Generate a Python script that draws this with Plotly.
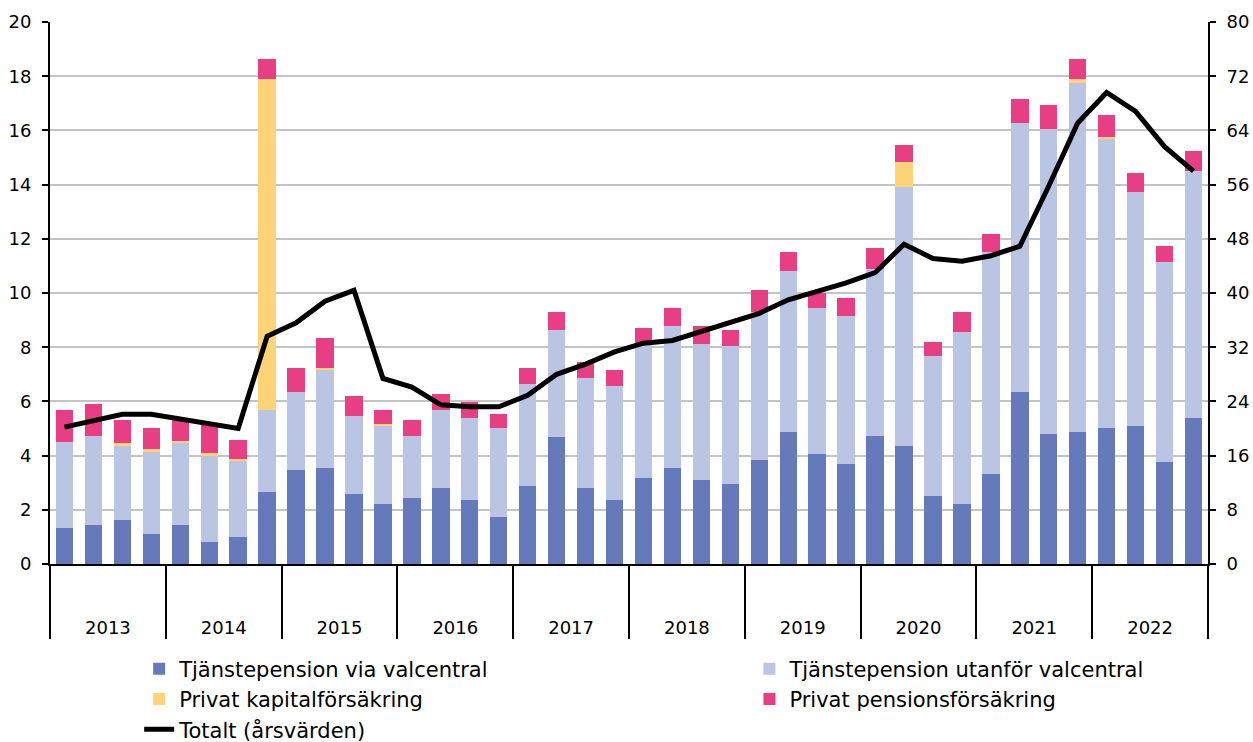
import plotly.graph_objects as go

years = ["2013", "2014", "2015", "2016", "2017", "2018", "2019", "2020", "2021", "2022"]
quarters_per_year = 4

via_valcentral = [1.34, 1.43, 1.64, 1.12, 1.43, 0.82, 0.98, 2.67,
                  3.48, 3.55, 2.59, 2.22, 2.44, 2.81, 2.37, 1.72,
                  2.89, 4.67, 2.81, 2.37, 3.18, 3.55, 3.11, 2.96,
                  3.85, 4.88, 4.07, 3.70, 4.73, 4.37, 2.52, 2.22,
                  3.33, 6.36, 4.80, 4.88, 5.03, 5.10, 3.78, 5.40]
utanfor_valcentral = [3.18, 3.30, 2.74, 3.04, 3.02, 3.20, 2.83, 3.03,
                      2.88, 3.63, 2.88, 2.90, 2.29, 2.89, 3.03, 3.31,
                      3.75, 3.98, 4.07, 4.21, 4.92, 5.24, 5.02, 5.09,
                      5.45, 5.95, 5.37, 5.45, 6.17, 9.56, 5.16, 6.35,
                      8.17, 9.92, 11.26, 12.87, 10.66, 8.61, 7.35, 9.12]
privat_kapital = [0.0, 0.0, 0.07, 0.07, 0.08, 0.06, 0.05, 12.20,
                  0.0, 0.06, 0.0, 0.06, 0.0, 0.0, 0.0, 0.0,
                  0.0, 0.0, 0.0, 0.0, 0.0, 0.0, 0.0, 0.0,
                  0.0, 0.0, 0.0, 0.0, 0.0, 0.89, 0.0, 0.0,
                  0.0, 0.0, 0.0, 0.15, 0.07, 0.0, 0.0, 0.0]
privat_pension = [1.17, 1.19, 0.87, 0.80, 0.78, 1.12, 0.72, 0.74,
                  0.88, 1.10, 0.74, 0.51, 0.59, 0.59, 0.59, 0.51,
                  0.60, 0.64, 0.58, 0.58, 0.60, 0.65, 0.64, 0.60,
                  0.81, 0.67, 0.56, 0.66, 0.75, 0.65, 0.52, 0.72,
                  0.66, 0.88, 0.87, 0.74, 0.82, 0.72, 0.60, 0.72]
totalt_arsvarden = [20.2, 21.2, 22.1, 22.1, 21.4, 20.6, 20.0, 33.6,
                    35.6, 38.8, 40.4, 27.4, 26.1, 23.5, 23.2, 23.2,
                    24.9, 28.0, 29.5, 31.3, 32.6, 33.0, 34.3, 35.6,
                    37.0, 39.0, 40.3, 41.5, 43.0, 47.2, 45.1, 44.7,
                    45.5, 46.9, 55.8, 65.1, 69.6, 66.8, 61.6, 58.0]

left_ticks = [0, 2, 4, 6, 8, 10, 12, 14, 16, 18, 20]
right_ticks = [0, 8, 16, 24, 32, 40, 48, 56, 64, 72, 80]

names = ["Tjänstepension via valcentral", "Tjänstepension utanför valcentral",
         "Privat kapitalförsäkring", "Privat pensionsförsäkring", "Totalt (årsvärden)"]
colors = ["#6679BA", "#BAC5E3", "#FFD378", "#E83E84", "#000000"]
legend_of = ["legend", "legend2", "legend", "legend2", "legend"]

x = list(range(len(via_valcentral)))
year_centers = [i * quarters_per_year + (quarters_per_year - 1) / 2 for i in range(len(years))]

FONT = "DejaVu Sans"

fig = go.Figure()
bar_series = [via_valcentral, utanfor_valcentral, privat_kapital, privat_pension]
for i, vals in enumerate(bar_series):
    fig.add_trace(go.Bar(x=x, y=vals, name=names[i], legend=legend_of[i],
                         legendgroup=f"g{i}",
                         marker=dict(color=colors[i], line=dict(width=0))))

fig.add_trace(go.Scatter(x=x, y=totalt_arsvarden, name=names[4], mode="lines",
                         legend=legend_of[4], legendgroup="g4",
                         line=dict(color=colors[4], width=5), yaxis="y2"))

legend_common = dict(
    orientation="v", xanchor="left", yanchor="top", y=-0.156,
    font=dict(family=FONT, size=21, color="black"),
    traceorder="grouped", tracegroupgap=0,
    bgcolor="rgba(0,0,0,0)", borderwidth=0,
)

fig.update_layout(
    width=1253, height=742,
    margin=dict(l=50, r=45, t=22, b=178, autoexpand=False),
    paper_bgcolor="white", plot_bgcolor="white",
    barmode="stack", bargap=0.4,
    font=dict(family=FONT, size=18, color="black"),
    xaxis=dict(
        range=[-0.5, len(x) - 0.5],
        tickmode="array", tickvals=year_centers, ticktext=years,
        ticks="outside", ticklen=46, tickcolor="rgba(0,0,0,0)",
        tickfont=dict(size=18),
        showline=True, linecolor="black", linewidth=2,
        showgrid=False, zeroline=False,
        minor=dict(tickmode="linear", tick0=-0.5, dtick=quarters_per_year,
                   ticks="outside", ticklen=73, tickwidth=1.5, tickcolor="black",
                   showgrid=False),
    ),
    yaxis=dict(
        range=[0, 20], tickmode="array", tickvals=left_ticks,
        showline=True, linecolor="black", linewidth=2,
        ticks="outside", ticklen=6, tickwidth=2, tickcolor="black",
        ticklabelstandoff=7,
        showgrid=True, gridcolor="#C4C4C4", gridwidth=1.5, zeroline=False,
    ),
    yaxis2=dict(
        range=[0, 80], tickmode="array", tickvals=right_ticks,
        overlaying="y", side="right",
        showline=True, linecolor="black", linewidth=2,
        ticks="outside", ticklen=6, tickwidth=2, tickcolor="black",
        ticklabelstandoff=7,
        showgrid=False, zeroline=False,
    ),
    legend=dict(x=0.077, **legend_common),
    legend2=dict(x=0.604, **legend_common),
    showlegend=True,
)

fig.write_html("out.html", config={"displayModeBar": False},
               post_script="document.body.style.margin='0px';")
